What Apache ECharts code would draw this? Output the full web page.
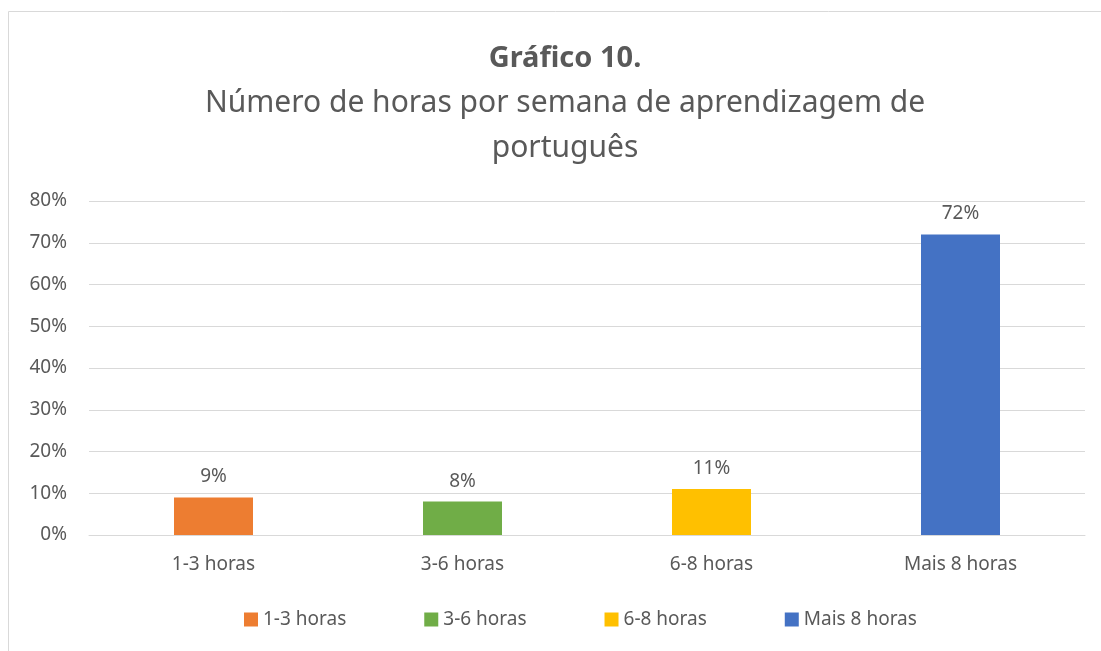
<!DOCTYPE html>
<html>
<head>
<meta charset="utf-8">
<script src="https://cdn.jsdelivr.net/npm/echarts@6/dist/echarts.min.js"></script>
<style>
  html, body { margin: 0; padding: 0; background: #fff; }
  #main { width: 1101px; height: 651px; }
</style>
</head>
<body>
<div id="main"></div>
<script>
const categories = ['1-3 horas', '3-6 horas', '6-8 horas', 'Mais 8 horas']
const values = [9, 8, 11, 72]
const colors = ['#ED7D31', '#70AD47', '#FFC000', '#4472C4']
const yTicks = [0, 10, 20, 30, 40, 50, 60, 70, 80]

const font = 'Noto Sans'
const grey = '#595959'

// one series per category so the legend shows each colour
const series = categories.map((name, i) => ({
  name: name,
  type: 'bar',
  stack: 'all',
  barWidth: 79,
  itemStyle: { color: colors[i] },
  label: {
    show: true,
    position: 'top',
    distance: 11,
    formatter: '{c}%',
    color: grey,
    fontFamily: font,
    fontSize: 19
  },
  data: values.map((v, j) => (j === i ? v : '-'))
}))

const myChart = echarts.init(document.getElementById('main'))
myChart.setOption({
  animation: false,
  graphic: [{
    type: 'rect',
    shape: { x: 8.5, y: 11.5, width: 1200, height: 700 },
    style: { fill: 'none', stroke: '#d9d9d9', lineWidth: 1 }
  }],
  title: {
    text: 'Gráfico 10.',
    subtext: 'Número de horas por semana de aprendizagem de\nportuguês',
    left: 560,
    top: 39,
    textAlign: 'center',
    itemGap: 8,
    textStyle: { fontFamily: font, fontSize: 29, fontWeight: 'bold', color: grey },
    subtextStyle: { fontFamily: font, fontSize: 30, color: grey, lineHeight: 45 }
  },
  legend: {
    bottom: 17,
    left: 239,
    itemWidth: 14,
    itemHeight: 14,
    itemGap: 78,
    icon: 'rect',
    textStyle: { fontFamily: font, fontSize: 19, color: grey }
  },
  grid: { left: 89, right: 16, top: 201, bottom: 116 },
  xAxis: {
    type: 'category',
    data: categories,
    axisLine: { lineStyle: { color: '#d9d9d9' } },
    axisTick: { show: false },
    axisLabel: { color: grey, fontFamily: font, fontSize: 19, margin: 20 }
  },
  yAxis: {
    type: 'value',
    min: yTicks[0],
    max: yTicks[yTicks.length - 1],
    interval: 10,
    axisLabel: { formatter: '{value}%', color: grey, fontFamily: font, fontSize: 19, margin: 22 },
    splitLine: { lineStyle: { color: '#d9d9d9' } },
    axisLine: { show: false },
    axisTick: { show: false }
  },
  series: series
})
</script>
</body>
</html>
